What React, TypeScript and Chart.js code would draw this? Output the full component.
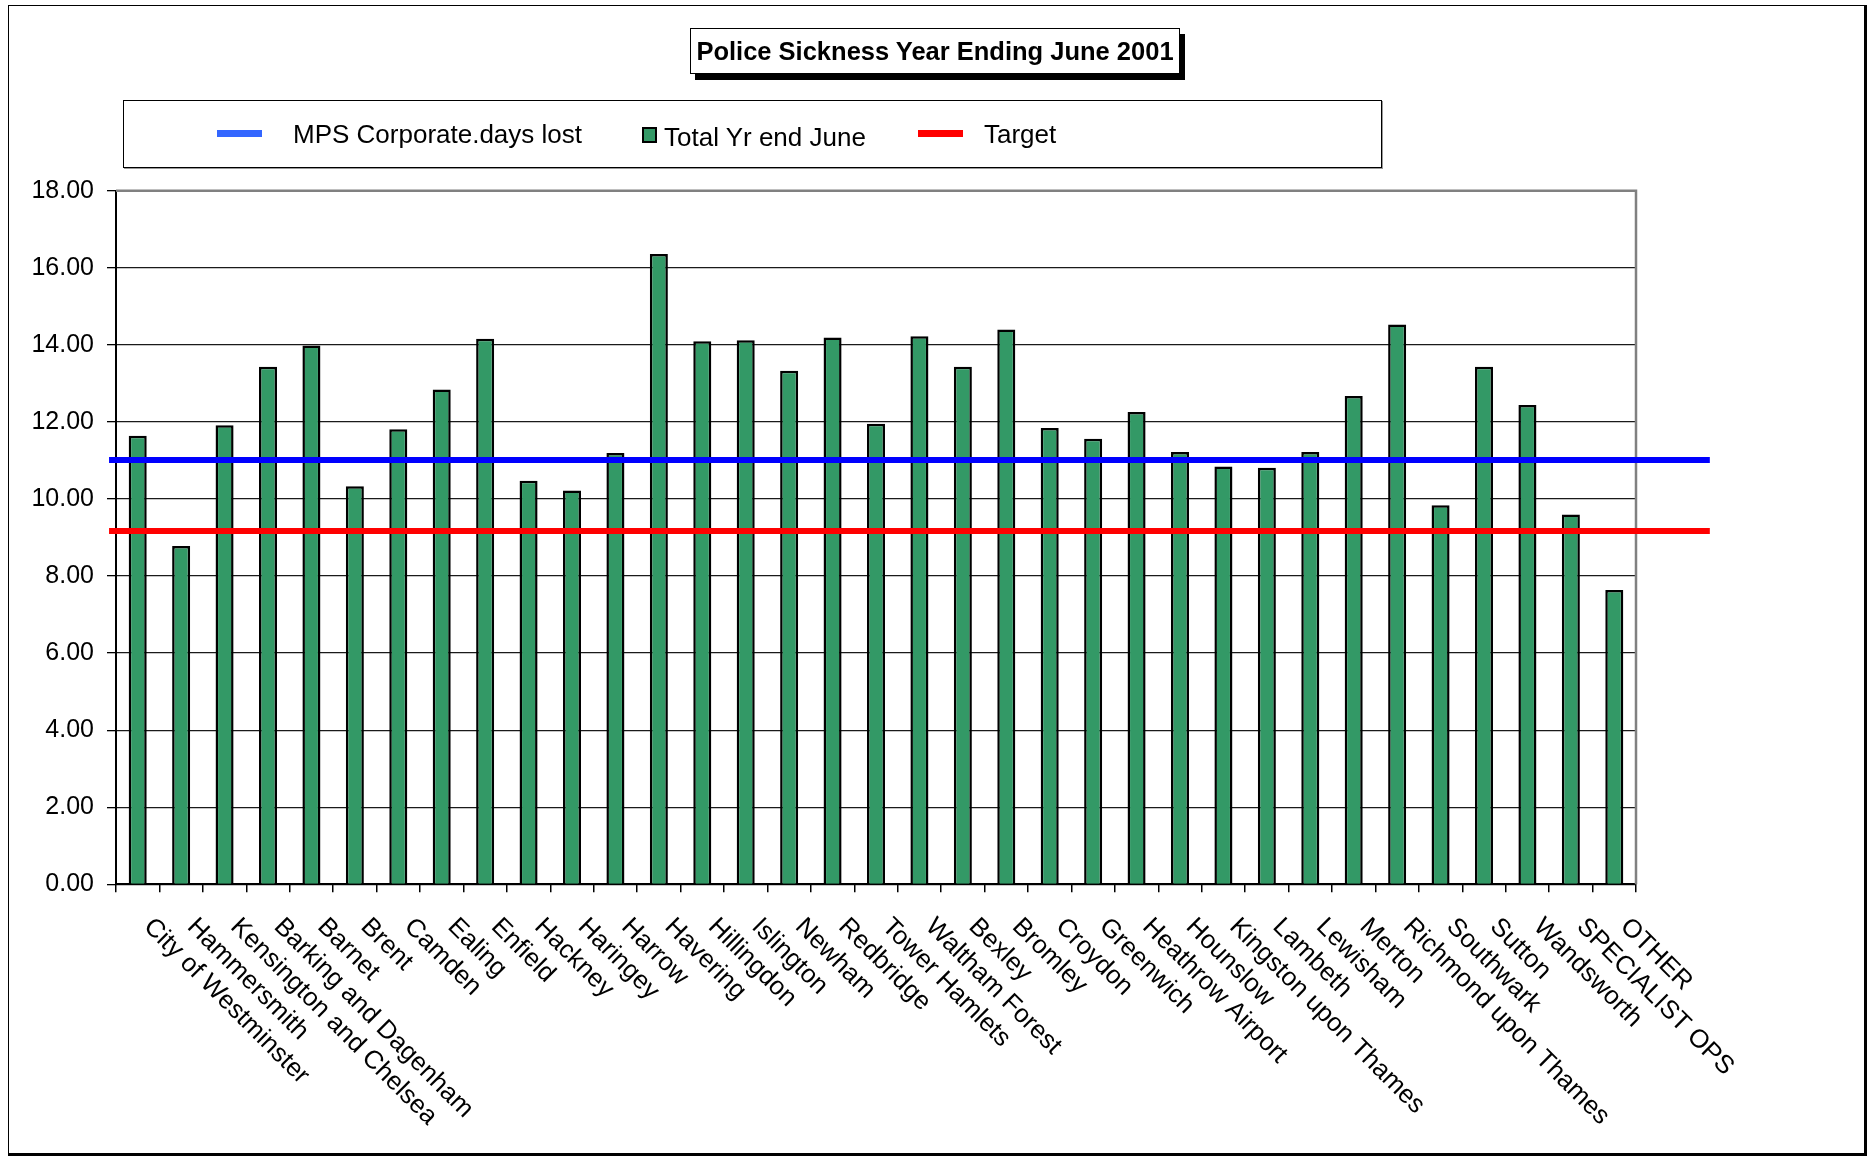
import React, { useEffect, useRef } from "react";
import { Chart, registerables } from "chart.js";

Chart.register(...registerables);

const PAGE_W = 1868;
const PAGE_H = 1157;
const FONT = "'Liberation Sans', Arial, Helvetica, sans-serif";

const chartTitle = "Police Sickness Year Ending June 2001";
const seriesNames = ["MPS Corporate.days lost", "Total Yr end June", "Target"];

const categories = [
  "City of Westminster",
  "Hammersmith",
  "Kensington and Chelsea",
  "Barking and Dagenham",
  "Barnet",
  "Brent",
  "Camden",
  "Ealing",
  "Enfield",
  "Hackney",
  "Haringey",
  "Harrow",
  "Havering",
  "Hillingdon",
  "Islington",
  "Newham",
  "Redbridge",
  "Tower Hamlets",
  "Waltham Forest",
  "Bexley",
  "Bromley",
  "Croydon",
  "Greenwich",
  "Heathrow Airport",
  "Hounslow",
  "Kingston upon Thames",
  "Lambeth",
  "Lewisham",
  "Merton",
  "Richmond upon Thames",
  "Southwark",
  "Sutton",
  "Wandsworth",
  "SPECIALIST OPS",
  "OTHER",
];

const totalYrEndJune = [
  11.64, 8.78, 11.91, 13.43, 13.98, 10.33, 11.81, 12.84, 14.16, 10.47, 10.22,
  11.19, 16.36, 14.09, 14.12, 13.33, 14.19, 11.95, 14.22, 13.43, 14.4, 11.84,
  11.56, 12.26, 11.22, 10.84, 10.81, 11.22, 12.67, 14.53, 9.84, 13.43, 12.44,
  9.6, 7.64,
];

const mpsCorporateDaysLost = 11.01;
const targetValue = 9.17;
// category-index extent covered by the two reference lines
const refLineSpan = [-0.66, 36.2];

const yMin = 0;
const yMax = 18;
const yStep = 2;

const diagLabelsPlugin = {
  id: "diagLabels",
  afterDraw(chart: any) {
    const xs = chart.scales.x;
    const ctx = chart.ctx;
    ctx.save();
    ctx.font = `25.7px ${FONT}`;
    ctx.fillStyle = "#000";
    ctx.textAlign = "left";
    ctx.textBaseline = "alphabetic";
    (chart.data.labels as string[]).forEach((lab, i) => {
      const x = xs.getPixelForValue(i) + 5;
      const y = xs.top + 43.5;
      ctx.save();
      ctx.translate(x, y);
      ctx.rotate(Math.PI / 4);
      ctx.fillText(lab, 0, 0);
      ctx.restore();
    });
    ctx.restore();
  },
};

const plotFramePlugin = {
  id: "plotFrame",
  beforeDatasetsDraw(chart: any) {
    const { left, right, top, bottom } = chart.chartArea;
    const ctx = chart.ctx;
    ctx.save();
    ctx.strokeStyle = "#808080";
    ctx.lineWidth = 2.5;
    ctx.beginPath();
    ctx.moveTo(left, top);
    ctx.lineTo(right, top);
    ctx.lineTo(right, bottom);
    ctx.stroke();
    ctx.restore();
  },
};

export default function App() {
  const canvasRef = useRef<HTMLCanvasElement | null>(null);

  useEffect(() => {
    if (!canvasRef.current) return;
    const chart = new Chart(canvasRef.current, {
      type: "bar",
      data: {
        labels: categories,
        datasets: [
          {
            type: "line",
            label: seriesNames[0],
            xAxisID: "xl",
            data: refLineSpan.map((x) => ({ x, y: mpsCorporateDaysLost })),
            borderColor: "#0000ff",
            borderWidth: 6,
            pointRadius: 0,
            clip: false,
            grouped: false,
            order: 0,
          } as any,
          {
            type: "bar",
            label: seriesNames[1],
            xAxisID: "x",
            data: totalYrEndJune,
            backgroundColor: "#339966",
            borderColor: "#000000",
            borderWidth: 2.5,
            barPercentage: 0.415,
            categoryPercentage: 1,
            grouped: false,
            order: 1,
          } as any,
          {
            type: "line",
            label: seriesNames[2],
            xAxisID: "xl",
            data: refLineSpan.map((x) => ({ x, y: targetValue })),
            borderColor: "#ff0000",
            borderWidth: 6,
            pointRadius: 0,
            clip: false,
            grouped: false,
            order: 0,
          } as any,
        ],
      },
      options: {
        animation: false,
        responsive: false,
        devicePixelRatio: 1,
        layout: { padding: { top: 190.7, right: 232, left: 0, bottom: 0 } },
        plugins: {
          legend: { display: false },
          title: { display: false },
          tooltip: { enabled: false },
        },
        scales: {
          x: {
            type: "category",
            offset: true,
            grid: {
              display: true,
              drawOnChartArea: false,
              drawTicks: true,
              tickLength: 8,
              color: "#000",
              tickColor: "#000",
              lineWidth: 1.5,
              offset: true,
            },
            border: { display: true, color: "#000", width: 2 },
            ticks: { display: false },
            afterFit: (s: any) => {
              s.height = PAGE_H - 884.3;
            },
          },
          xl: {
            type: "linear",
            display: false,
            offset: false,
            grid: { offset: false },
            min: -0.5,
            max: categories.length - 0.5,
          },
          y: {
            min: yMin,
            max: yMax,
            ticks: {
              stepSize: yStep,
              callback: (v: any) => Number(v).toFixed(2),
              font: { family: FONT, size: 25 },
              color: "#000",
              padding: 13,
            },
            grid: {
              color: (c: any) =>
                c.tick && c.tick.value === yMax ? "rgba(0,0,0,0)" : "#1a1a1a",
              tickColor: "#000",
              lineWidth: 1.3,
              tickLength: 9,
              drawTicks: true,
            },
            border: { color: "#000", width: 2 },
            afterFit: (s: any) => {
              s.width = 116;
            },
          },
        } as any,
      },
      plugins: [plotFramePlugin, diagLabelsPlugin],
    });
    return () => chart.destroy();
  }, []);

  const textStyle: React.CSSProperties = {
    position: "absolute",
    fontFamily: FONT,
    fontSize: 26,
    lineHeight: "26px",
    whiteSpace: "nowrap",
    color: "#000",
  };

  return (
    <div
      style={{
        position: "absolute",
        left: 0,
        top: 0,
        width: PAGE_W,
        height: PAGE_H,
        background: "#fff",
        overflow: "hidden",
      }}
    >
      <canvas
        ref={canvasRef}
        width={PAGE_W}
        height={PAGE_H}
        style={{ position: "absolute", left: 0, top: 0, width: PAGE_W, height: PAGE_H }}
      />
      {/* outer frame */}
      <div
        style={{
          position: "absolute",
          left: 8,
          top: 5,
          width: 1859,
          height: 1151,
          boxSizing: "border-box",
          borderLeft: "1px solid #000",
          borderTop: "1.5px solid #000",
          borderRight: "3px solid #000",
          borderBottom: "3px solid #000",
          pointerEvents: "none",
        }}
      />
      {/* title */}
      <div
        style={{
          position: "absolute",
          left: 690,
          top: 28,
          width: 490,
          height: 46,
          boxSizing: "border-box",
          border: "1px solid #000",
          boxShadow: "5px 6px 0 #000",
          background: "#fff",
          display: "flex",
          alignItems: "center",
          justifyContent: "center",
          fontFamily: FONT,
          fontWeight: "bold",
          fontSize: 25.5,
          whiteSpace: "nowrap",
          color: "#000",
        }}
      >
        {chartTitle}
      </div>
      {/* legend */}
      <div
        style={{
          position: "absolute",
          left: 123,
          top: 100,
          width: 1259,
          height: 68,
          boxSizing: "border-box",
          border: "1px solid #000",
          boxShadow: "1px 1px 0 #999",
          background: "#fff",
        }}
      />
      <div style={{ position: "absolute", left: 217, top: 129.5, width: 45, height: 7, background: "#3366ff" }} />
      <div style={{ ...textStyle, left: 293, top: 120.7 }}>{seriesNames[0]}</div>
      <div
        style={{
          position: "absolute",
          left: 642,
          top: 127,
          width: 15,
          height: 16,
          boxSizing: "border-box",
          border: "2px solid #000",
          background: "#339966",
        }}
      />
      <div style={{ ...textStyle, left: 664, top: 124 }}>{seriesNames[1]}</div>
      <div style={{ position: "absolute", left: 918, top: 129.7, width: 45, height: 7, background: "#ff0000" }} />
      <div style={{ ...textStyle, left: 984, top: 120.7 }}>{seriesNames[2]}</div>
    </div>
  );
}
